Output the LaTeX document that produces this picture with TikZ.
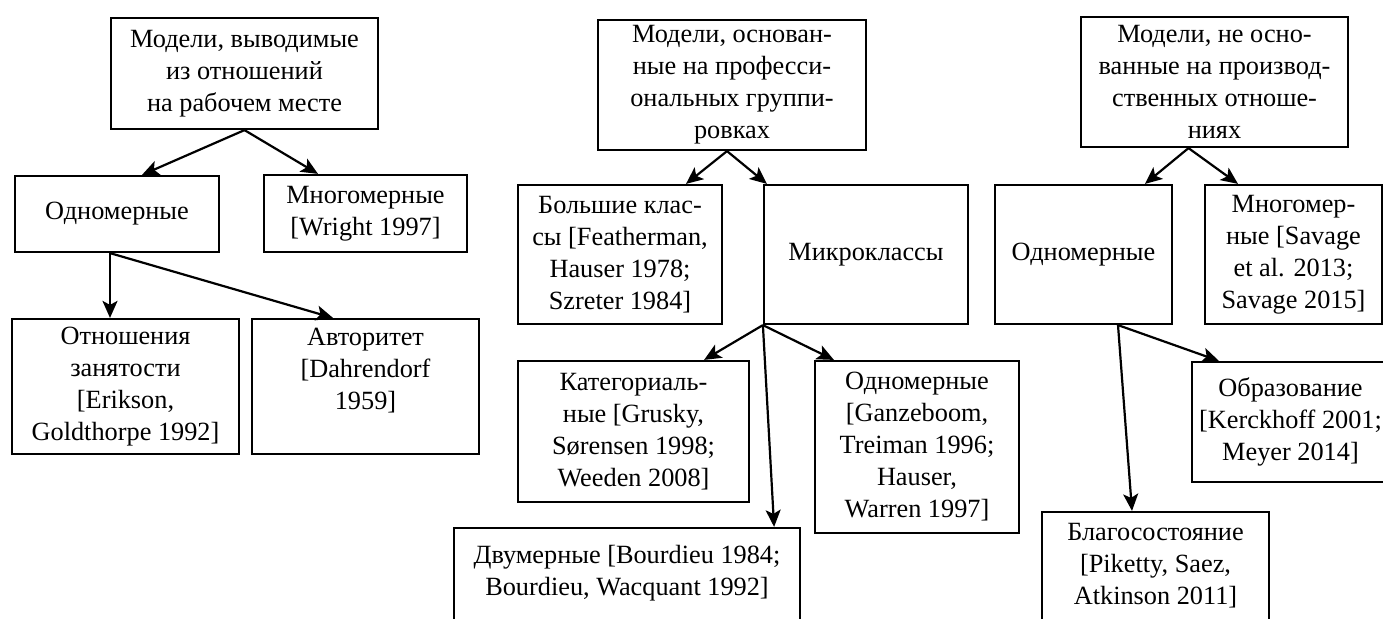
\documentclass[tikz,border=0pt]{standalone}
\usepackage{fontspec}
\setmainfont{Liberation Serif}
\usetikzlibrary{arrows.meta}
\tikzset{
	box/.style={draw, line width=2.2pt, align=center, inner sep=0pt, font=\fontsize{26.3}{32}\selectfont},
	txt/.style={align=center, inner sep=0pt, font=\fontsize{26.3}{32}\selectfont},
	arr/.style={line width=2.2pt, -{Stealth[length=17pt,width=15pt,inset=4pt]}}
}
\begin{document}
\begin{tikzpicture}[x=1pt,y=-1pt]
			\useasboundingbox (0,0) rectangle (1383,618);
			%%%%% START %%%%%
			
			% left column
			\node[box, minimum width=267pt, minimum height=111pt] (rel) at (244.5,73.5) {Модели, выводимые\\из отношений\\на рабочем месте};
			\node[box, minimum width=204pt, minimum height=76pt] (relone) at (117,214) {Одномерные};
			\node[box, minimum width=203pt, minimum height=77pt] (relmulti) at (365.5,213.5) {Многомерные\\{[Wright 1997]}};
			\node[box, minimum width=227pt, minimum height=135pt] (emp) at (125.5,386.5) {Отношения\\занятости\\{[Erikson,}\\Goldthorpe 1992]};
			\node[box, minimum width=227pt, minimum height=135pt] (auth) at (365.5,386.5) {};
			\node[txt, anchor=north] (authtxt) at ([yshift=-10pt]auth.north) {Авторитет\\{[Dahrendorf}\\1959]};
			
			\draw[arr] (rel.south) -- ([xshift=25pt]relone.north);
			\draw[arr] (rel.south) -- ([xshift=-47.5pt]relmulti.north);
			\draw[arr] ([xshift=-7pt]relone.south) -- ([xshift=-15.5pt]emp.north);
			\draw[arr] ([xshift=-7pt]relone.south) -- ([xshift=-32.5pt]auth.north);
			
			% middle column
			\node[box, minimum width=268pt, minimum height=130pt] (occ) at (732,85) {Модели, основан-\\ные на професси-\\ональных группи-\\ровках};
			\node[box, minimum width=204pt, minimum height=139pt] (big) at (620,254.5) {Большие клас-\\сы [Featherman,\\Hauser 1978;\\Szreter 1984]};
			\node[box, minimum width=204pt, minimum height=139pt] (micro) at (866,254.5) {Микроклассы};
			\node[box, minimum width=231pt, minimum height=141pt] (cat) at (633.5,431.5) {Категориаль-\\ные [Grusky,\\Sørensen 1998;\\Weeden 2008]};
			\node[box, minimum width=204pt, minimum height=172pt] (occone) at (917,447) {Одномерные\\{[Ganzeboom,}\\Treiman 1996;\\Hauser,\\Warren 1997]};
			\node[box, minimum width=346pt, minimum height=120pt] (two) at (627,588) {};
			\node[txt, anchor=north] (twotxt) at ([yshift=-18pt]two.north) {Двумерные [Bourdieu 1984;\\Bourdieu, Wacquant 1992]};
			
			\draw[arr] ([xshift=-5pt]occ.south) -- ([xshift=66pt]big.north);
			\draw[arr] ([xshift=-5pt]occ.south) -- ([xshift=4pt]micro.north west);
			\draw[arr] (micro.south west) -- ([xshift=-46pt]cat.north east);
			\draw[arr] (micro.south west) -- ([xshift=-27pt]two.north east);
			\draw[arr] (micro.south west) -- ([xshift=20pt]occone.north west);
			
			% right column
			\node[box, minimum width=267pt, minimum height=130pt] (nonprod) at (1214.5,82) {Модели, не осно-\\ванные на производ-\\ственных отноше-\\ниях};
			\node[box, minimum width=177pt, minimum height=139pt] (npone) at (1083.5,254.5) {Одномерные};
			\node[box, minimum width=177pt, minimum height=139pt] (npmulti) at (1293.5,254.5) {Многомер-\\ные [Savage\\et al. 2013;\\Savage 2015]};
			\node[box, minimum width=197pt, minimum height=120pt] (edu) at (1290.5,422) {Образование\\{[Kerckhoff 2001;}\\Meyer 2014]};
			\node[box, minimum width=227pt, minimum height=120pt] (wealth) at (1155.5,572) {};
			\node[txt, anchor=north] (wealthtxt) at ([yshift=-12pt]wealth.north) {Благосостояние\\{[Piketty, Saez,}\\Atkinson 2011]};
			
			\draw[arr] ([xshift=-26pt]nonprod.south) -- ([xshift=61.5pt]npone.north);
			\draw[arr] ([xshift=-26pt]nonprod.south) -- ([xshift=-55.5pt]npmulti.north);
			\draw[arr] ([xshift=34.5pt]npone.south) -- ([xshift=-23.5pt]wealth.north);
			\draw[arr] ([xshift=34.5pt]npone.south) -- ([xshift=28pt]edu.north west);
			
			%%%%% END %%%%%
\end{tikzpicture}
\end{document}
